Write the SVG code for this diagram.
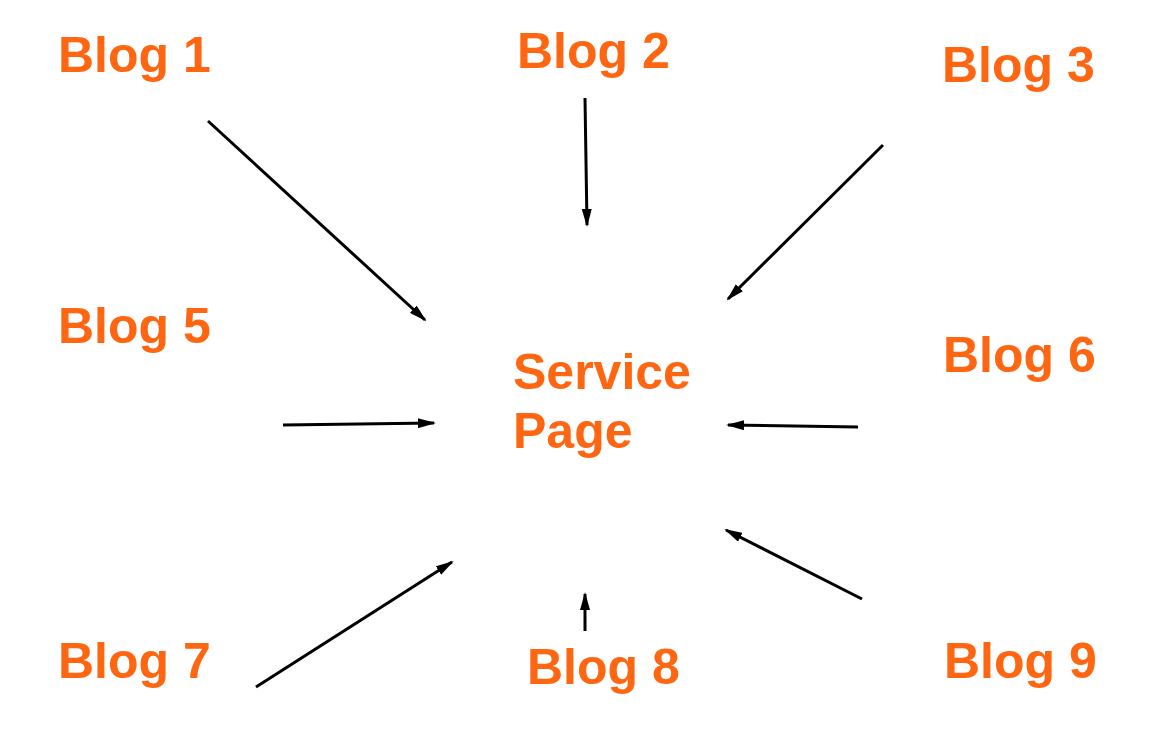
<svg xmlns="http://www.w3.org/2000/svg" width="1169" height="739" viewBox="0 0 1169 739">
<style>
.t{font-family:"Liberation Sans",Arial,sans-serif;font-weight:bold;font-size:50px;fill:#FF6611}
.c line{stroke:#000;stroke-width:3;marker-end:url(#a)}
</style>
<defs><marker id="a" markerUnits="userSpaceOnUse" markerWidth="18" markerHeight="10" refX="16" refY="5" orient="auto"><path d="M0,0L18,5L0,10z" fill="#000"/></marker></defs>
<rect width="1169" height="739" fill="#fff"/>
<g id="blog1"><text class="t" x="58" y="72">Blog 1</text></g>
<g id="blog2"><text class="t" x="517" y="68">Blog 2</text></g>
<g id="blog3"><text class="t" x="942" y="82">Blog 3</text></g>
<g id="blog5"><text class="t" x="58" y="343">Blog 5</text></g>
<g id="blog6"><text class="t" x="943" y="372">Blog 6</text></g>
<g id="blog7"><text class="t" x="58" y="678">Blog 7</text></g>
<g id="blog8"><text class="t" x="527" y="684">Blog 8</text></g>
<g id="blog9"><text class="t" x="944" y="678">Blog 9</text></g>
<g id="service"><text class="t" x="513" y="389">Service</text><text class="t" x="513" y="448">Page</text></g>
<g class="c" id="connectors">
<line x1="208" y1="121" x2="425" y2="320"/>
<line x1="585" y1="98" x2="587" y2="225"/>
<line x1="883" y1="145" x2="728" y2="299"/>
<line x1="283" y1="425" x2="434" y2="423"/>
<line x1="858" y1="427" x2="728" y2="425"/>
<line x1="256" y1="687" x2="452" y2="562"/>
<line x1="585" y1="631" x2="585" y2="594"/>
<line x1="862" y1="599" x2="726" y2="530"/>
</g>
</svg>
